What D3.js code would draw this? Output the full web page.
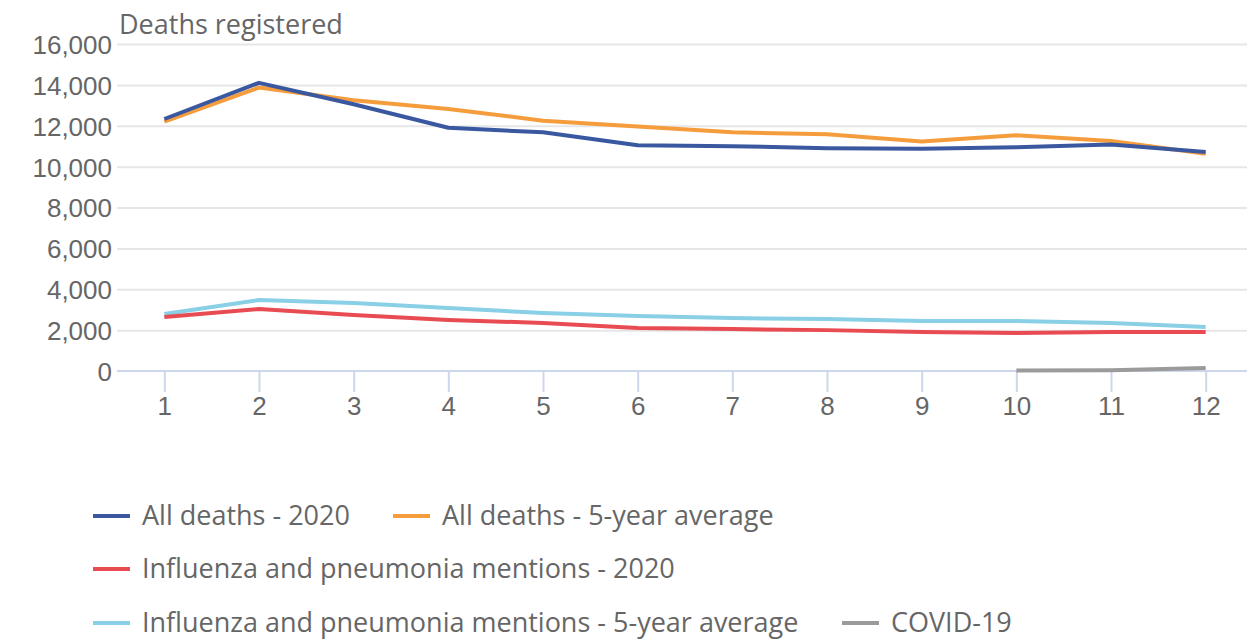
<!DOCTYPE html>
<html>
<head>
<meta charset="utf-8">
<script src="https://cdn.jsdelivr.net/npm/d3@7/dist/d3.min.js"></script>
<style>
  html, body { margin: 0; padding: 0; background: #fff; }
  svg { display: block; font-family: "Open Sans", "Noto Sans", sans-serif; }
</style>
</head>
<body>
<svg id="chart" width="1247" height="639"></svg>
<script>
// Month numbers along the x axis
const months = [1, 2, 3, 4, 5, 6, 7, 8, 9, 10, 11, 12];

// Deaths registered per month
const allDeaths2020 = [12330, 14100, 13050, 11900, 11680, 11050, 11000, 10900, 10880, 10950, 11080, 10720];
const allDeathsAvg = [12200, 13870, 13250, 12820, 12250, 11960, 11680, 11580, 11230, 11530, 11250, 10630];
const flu2020 = [2640, 3030, 2740, 2500, 2350, 2100, 2050, 2000, 1910, 1860, 1910, 1910];
const fluAvg = [2790, 3470, 3330, 3080, 2840, 2690, 2590, 2540, 2450, 2450, 2350, 2150];
const covid = [null, null, null, null, null, null, null, null, null, 20, 40, 150];

const yTicks = [0, 2000, 4000, 6000, 8000, 10000, 12000, 14000, 16000];

const series = [
  { name: "All deaths - 2020", values: allDeaths2020, color: "#3a58a0" },
  { name: "All deaths - 5-year average", values: allDeathsAvg, color: "#f59d3d" },
  { name: "Influenza and pneumonia mentions - 2020", values: flu2020, color: "#e84c52" },
  { name: "Influenza and pneumonia mentions - 5-year average", values: fluAvg, color: "#89cfe6" },
  { name: "COVID-19", values: covid, color: "#9b9b9b" }
];

const svg = d3.select("#chart");
const textColor = "#666666";

const plotLeft = 117, plotRight = 1253, plotTop = 44, plotBottom = 371;

const x = d3.scalePoint().domain(months).range([plotLeft, plotRight]).padding(0.5);
const y = d3.scaleLinear().domain([0, 16000]).range([plotBottom, plotTop]);

// Horizontal gridlines and value labels
const yAxis = d3.axisLeft(y)
  .tickValues(yTicks)
  .tickSize(-(plotRight - plotLeft))
  .tickFormat(d3.format(","));
const gy = svg.append("g").attr("transform", `translate(${plotLeft},0)`).call(yAxis);
gy.select(".domain").remove();
gy.selectAll(".tick line").attr("stroke", "#e6e6e6").attr("stroke-width", 2);
gy.selectAll(".tick text")
  .attr("x", -5)
  .attr("fill", textColor)
  .style("font-size", "26px")
  .attr("dy", "0.36em");
gy.selectAll(".tick").filter(d => d === 0).select("line").attr("stroke", "none");

// Bottom axis with ticks
const xAxis = d3.axisBottom(x).tickSize(21).tickPadding(5);
const gx = svg.append("g").attr("transform", `translate(0,${plotBottom})`).call(xAxis);
gx.select(".domain").remove();
gx.append("line")
  .attr("x1", plotLeft).attr("x2", 1247)
  .attr("y1", 0).attr("y2", 0)
  .attr("stroke", "#cdd6ea").attr("stroke-width", 2);
gx.selectAll(".tick line").attr("stroke", "#cdd6ea").attr("stroke-width", 2);
gx.selectAll(".tick text")
  .attr("fill", textColor)
  .style("font-size", "26px");

// Axis title
svg.append("text")
  .attr("x", 119).attr("y", 34)
  .attr("fill", textColor)
  .style("font-size", "27px")
  .text("Deaths registered");

// Lines
const line = d3.line()
  .defined(d => d.v != null)
  .x(d => x(d.m))
  .y(d => y(d.v));

const drawOrder = [3, 2, 4, 1, 0];
drawOrder.forEach(i => {
  const s = series[i];
  svg.append("path")
    .datum(months.map((m, j) => ({ m, v: s.values[j] })))
    .attr("fill", "none")
    .attr("stroke", s.color)
    .attr("stroke-width", 4)
    .attr("stroke-linejoin", "round")
    .attr("d", line);
});

// Legend
const legendItems = [
  { s: series[0], x: 93, y: 516 },
  { s: series[1], x: 393, y: 516 },
  { s: series[2], x: 93, y: 569 },
  { s: series[3], x: 93, y: 623 },
  { s: series[4], x: 842, y: 623 }
];
const lg = svg.append("g");
legendItems.forEach(it => {
  const g = lg.append("g").attr("transform", `translate(${it.x},${it.y})`);
  g.append("line")
    .attr("x1", 0).attr("x2", 37)
    .attr("y1", 0).attr("y2", 0)
    .attr("stroke", it.s.color).attr("stroke-width", 4);
  g.append("text")
    .attr("x", 49).attr("y", 0)
    .attr("dy", "0.35em")
    .attr("fill", textColor)
    .style("font-size", "27px")
    .text(it.s.name);
});
</script>
</body>
</html>
